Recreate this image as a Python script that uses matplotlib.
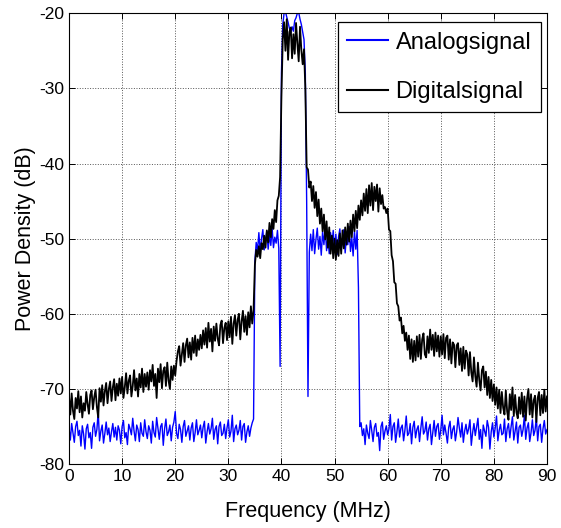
import numpy as np
import matplotlib
matplotlib.use("Agg")
import matplotlib.pyplot as plt

plt.rcParams['font.family'] = ['Liberation Sans', 'DejaVu Sans']
plt.rcParams['axes.unicode_minus'] = False

# frequency grid (MHz), 0.25 MHz steps from 0 to 90
freq_step = 0.25
freq = np.arange(0, 90 + freq_step / 2, freq_step)

analog = [
    -75.2,-76.8,-74.6,-75.9,-77.1,-75.0,-74.3,-76.2,-75.5,-77.6,-74.9,-76.0,-78.0,-75.3,-74.7,-76.5,-75.8,-77.9,-75.1,-74.5,
    -76.3,-75.4,-73.0,-76.9,-75.6,-74.8,-77.2,-75.9,-74.4,-76.1,-75.2,-77.0,-75.7,-74.6,-76.4,-75.1,-76.8,-74.9,-75.5,-77.3,
    -75.0,-74.2,-76.5,-75.8,-77.4,-74.7,-75.3,-76.1,-73.9,-75.6,-76.9,-74.8,-75.4,-77.0,-74.5,-75.9,-76.3,-74.1,-75.7,-76.6,
    -74.9,-75.5,-77.2,-74.3,-75.8,-76.4,-73.8,-75.2,-76.7,-75.0,-74.6,-77.5,-75.3,-74.0,-76.2,-75.7,-74.8,-76.9,-75.1,-74.4,
    -73.0,-75.9,-76.6,-74.7,-75.4,-77.1,-75.0,-74.2,-76.3,-75.6,-74.9,-76.8,-75.2,-74.5,-77.0,-75.8,-74.1,-76.1,-75.5,-74.8,
    -76.5,-75.1,-74.3,-77.2,-75.7,-74.6,-76.0,-75.3,-73.9,-76.7,-75.4,-74.9,-77.3,-75.0,-74.4,-76.2,-75.9,-74.7,-76.6,-75.2,
    -74.1,-76.4,-75.6,-73.5,-77.0,-75.3,-74.8,-76.1,-75.5,-74.2,-76.8,-75.0,-74.6,-77.1,-75.7,-74.9,-76.3,-75.2,-74.5,-74.0,
    -53.0,-50.5,-51.6,-49.2,-51.8,-50.0,-48.8,-51.5,-50.2,-49.0,-51.4,-49.5,-50.9,-48.6,-51.2,-49.8,-50.6,-48.9,-51.3,-67.0,
    -28.0,-21.5,-20.0,-19.8,-20.5,-21.2,-22.0,-22.6,-21.8,-22.4,-21.0,-20.6,-20.0,-19.9,-20.8,-21.5,-22.5,-23.5,-28.0,-45.0,
    -71.0,-51.8,-49.4,-51.6,-48.8,-52.0,-50.1,-48.6,-51.4,-49.7,-52.2,-49.0,-50.8,-48.5,-51.6,-49.9,-52.0,-49.2,-51.0,-48.9,
    -51.7,-49.4,-52.1,-49.8,-48.7,-51.5,-50.0,-48.8,-51.9,-49.6,-50.8,-48.4,-51.7,-49.9,-52.3,-49.0,-51.4,-48.9,-56.5,-75.0,
    -74.5,-76.2,-75.3,-77.4,-74.8,-75.9,-76.6,-74.2,-75.5,-77.0,-75.1,-74.6,-76.3,-75.8,-78.2,-75.0,-74.4,-76.7,-75.6,-74.9,
    -76.1,-75.3,-73.4,-76.8,-75.0,-74.5,-77.1,-75.7,-74.0,-76.4,-75.2,-74.8,-76.9,-75.5,-73.6,-76.2,-75.9,-74.6,-77.3,-75.1,
    -74.3,-76.5,-75.4,-74.9,-77.0,-75.2,-73.7,-76.0,-75.6,-74.4,-76.8,-75.3,-74.7,-77.4,-75.8,-74.2,-76.3,-75.0,-74.6,-76.7,
    -75.5,-73.5,-76.1,-74.8,-75.9,-77.2,-75.1,-74.3,-76.6,-75.4,-74.9,-76.9,-75.7,-73.8,-75.2,-76.4,-74.5,-77.1,-75.6,-74.7,
    -76.0,-75.3,-74.1,-77.5,-75.8,-74.6,-76.2,-75.0,-73.9,-76.7,-75.4,-77.9,-74.8,-75.6,-76.3,-74.2,-75.1,-78.0,-75.7,-74.5,
    -76.4,-75.2,-73.6,-76.9,-75.5,-74.7,-76.1,-75.9,-74.0,-77.0,-75.3,-74.6,-76.5,-75.0,-73.7,-76.8,-75.6,-74.4,-77.2,-75.1,
    -74.8,-76.3,-75.4,-73.5,-76.7,-75.2,-74.5,-77.0,-75.8,-74.1,-76.2,-75.5,-73.8,-76.9,-75.0,-74.7,-77.1,-75.3,-74.2,-76.0,
    -75.4,
]

digital = [
    -71.0,-73.4,-70.6,-72.9,-74.0,-71.2,-72.6,-70.3,-73.1,-71.0,-73.8,-71.9,-72.9,-70.4,-72.0,-73.3,-70.8,-70.2,-72.7,-71.1,
    -70.1,-72.4,-73.8,-69.9,-71.7,-69.5,-72.2,-70.3,-69.2,-71.9,-70.0,-69.0,-71.6,-69.8,-68.7,-71.5,-69.3,-70.9,-68.6,-70.6,
    -68.4,-71.2,-69.8,-67.9,-70.6,-68.9,-68.2,-71.0,-69.6,-67.5,-70.2,-68.6,-71.0,-68.0,-69.8,-67.3,-70.4,-68.0,-69.7,-67.8,
    -70.1,-67.5,-69.0,-66.8,-69.6,-68.0,-71.2,-67.3,-69.1,-66.7,-69.9,-67.6,-67.1,-69.6,-66.5,-68.9,-70.0,-67.0,-68.8,-66.9,
    -68.2,-66.3,-65.0,-64.3,-66.9,-65.4,-63.9,-66.4,-64.2,-63.3,-65.8,-63.8,-66.1,-63.2,-65.2,-62.9,-65.6,-63.4,-64.8,-62.8,
    -64.6,-62.2,-64.1,-61.9,-64.5,-61.2,-63.7,-62.0,-65.0,-61.7,-63.6,-61.3,-63.3,-64.2,-61.5,-60.9,-63.9,-61.9,-61.2,-63.5,
    -61.0,-63.1,-60.4,-64.0,-61.3,-60.2,-62.9,-60.8,-60.0,-63.4,-61.0,-59.6,-62.4,-60.3,-62.8,-59.8,-61.8,-59.0,-61.3,-59.5,
    -53.5,-51.5,-52.4,-51.0,-52.6,-50.6,-51.4,-49.6,-51.2,-48.9,-50.5,-47.9,-49.8,-47.4,-48.7,-46.2,-47.8,-44.9,-44.3,-41.8,
    -31.0,-23.5,-21.2,-25.0,-20.8,-26.2,-22.5,-21.9,-26.0,-22.8,-25.4,-21.3,-24.0,-26.4,-21.8,-24.9,-26.8,-24.8,-30.0,-40.5,
    -40.8,-43.2,-42.4,-45.0,-43.0,-45.9,-43.8,-47.0,-44.8,-48.0,-46.0,-49.0,-46.8,-50.1,-47.7,-51.2,-48.5,-52.0,-49.6,-52.6,
    -50.0,-52.8,-50.2,-52.3,-49.3,-52.0,-48.9,-51.3,-48.5,-50.8,-48.0,-50.4,-47.6,-49.8,-46.8,-49.0,-46.3,-48.6,-45.6,-47.5,
    -44.9,-46.9,-44.0,-46.3,-43.4,-46.6,-42.9,-45.6,-42.6,-46.2,-43.1,-45.0,-42.8,-46.4,-43.3,-45.4,-44.2,-46.0,-45.8,-46.6,
    -46.0,-48.8,-49.0,-52.2,-53.0,-55.8,-56.0,-58.6,-59.0,-60.9,-60.5,-62.6,-61.6,-63.6,-62.5,-64.8,-62.9,-66.0,-63.4,-66.4,
    -63.6,-66.2,-63.0,-65.7,-62.8,-66.0,-63.4,-62.6,-65.4,-65.8,-63.0,-65.2,-62.1,-64.8,-62.8,-65.6,-62.5,-65.0,-62.9,-65.7,
    -63.0,-65.4,-62.7,-65.9,-63.2,-62.9,-66.1,-63.4,-66.6,-63.8,-64.1,-67.1,-64.2,-63.9,-66.8,-64.6,-67.6,-64.4,-67.3,-64.9,
    -65.4,-68.2,-65.1,-67.8,-69.0,-65.8,-68.3,-69.7,-66.5,-68.8,-70.2,-67.5,-67.0,-69.8,-67.7,-70.8,-68.4,-71.2,-68.8,-71.6,
    -69.4,-72.1,-69.8,-72.6,-70.1,-73.2,-70.4,-72.5,-73.4,-70.2,-73.0,-74.1,-70.7,-72.8,-69.8,-73.6,-70.8,-73.1,-73.9,-71.1,
    -73.3,-70.5,-73.7,-71.0,-74.2,-71.3,-70.0,-73.4,-70.7,-73.8,-71.5,-70.9,-74.4,-71.2,-70.4,-73.5,-70.8,-73.2,-70.1,-73.0,
    -71.0,
]

series_labels = ['Analogsignal', 'Digitalsignal']
x_ticks = [0, 10, 20, 30, 40, 50, 60, 70, 80, 90]
y_ticks = [-80, -70, -60, -50, -40, -30, -20]

fig = plt.figure(figsize=(5.61, 5.28), dpi=100)
ax = fig.add_axes([0.123, 0.121, 0.852, 0.854])

ax.plot(freq, analog, color='#0000ff', lw=1.0, label=series_labels[0])
ax.plot(freq, digital, color='black', lw=1.3, label=series_labels[1])

ax.set_xlim(0, 90)
ax.set_ylim(-80, -20)
ax.set_xticks(x_ticks)
ax.set_yticks(y_ticks)
ax.grid(True, linestyle=':', color='#555555', linewidth=0.7)
ax.tick_params(direction='in', top=True, right=True, length=4, labelsize=12.5, width=0.7)
for s in ax.spines.values():
    s.set_linewidth(0.8)

ax.set_xlabel('Frequency (MHz)', fontsize=15.5, labelpad=12)
ax.set_ylabel('Power Density (dB)', fontsize=15.5, labelpad=2)

leg = ax.legend(loc='upper right', bbox_to_anchor=(0.987, 0.98), borderaxespad=0,
                fontsize=17, fancybox=False, edgecolor='black', framealpha=1,
                handlelength=1.75, handletextpad=0.3, labelspacing=1.15, borderpad=0.4)
leg.get_frame().set_linewidth(0.9)
for line in leg.get_lines():
    line.set_linewidth(1.5)

fig.savefig('out.png', dpi=100)
